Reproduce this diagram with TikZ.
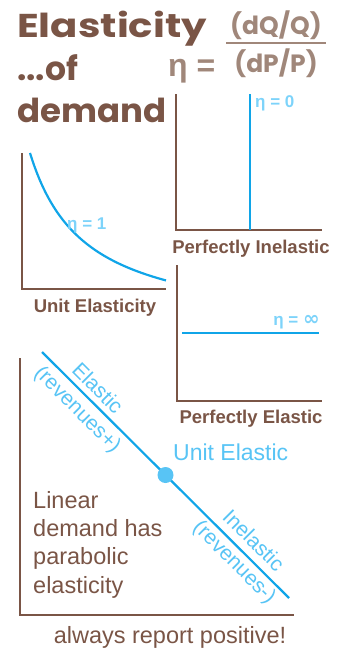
\documentclass[tikz,border=0pt]{standalone}
\usepackage{fontspec}
\setmainfont{Liberation Sans}
\newfontfamily\titlefont{Poppins}
\newfontfamily\symfont{DejaVu Sans}
\usetikzlibrary{positioning}
\definecolor{cocoa}{HTML}{7A5546}
\definecolor{latte}{HTML}{A0877A}
\definecolor{curveblue}{HTML}{10A5E8}
\definecolor{labelblue}{HTML}{58C4F5}
\definecolor{etablue}{HTML}{7DD3FA}

\begin{document}
\begin{tikzpicture}[
    x=1pt, y=-1pt,
    every node/.style={inner sep=0pt},
    axis/.style={draw=cocoa, line width=2.6pt},
    demand/.style={draw=curveblue, line width=2.2pt},
    heading/.style={text=cocoa, font=\titlefont\fontsize{33}{36}\selectfont\bfseries, anchor=base west},
    ratio/.style={text=latte, font=\titlefont\fontsize{25}{28}\selectfont\bfseries},
    caption/.style={text=cocoa, font=\fontsize{18.5}{20}\selectfont\bfseries, anchor=base},
    etalabel/.style={text=etablue, font=\fontsize{17}{19}\selectfont\bfseries},
    bluetext/.style={text=labelblue, font=\fontsize{21}{23}\selectfont, rotate=-45},
    note/.style={text=cocoa, font=\fontsize{23.5}{28.3}\selectfont}
]
\useasboundingbox (0,0) rectangle (341,654);

% title and definition
\node[heading] (elast) at (17,37) {\scalebox{1.22}[1]{Elasticity}};
\node[heading] (of) at (17,80) {...of};
\node[heading] (dem) at (17,122) {\scalebox{1.03}[1]{demand}};
\node[text=latte, font=\fontsize{32}{34}\selectfont\bfseries, anchor=base west] (eta) at (168,76) {η =};
\node[ratio, anchor=base] (dq) at (276,34) {(dQ/Q)};
\node[ratio, anchor=base] (dp) at (276,72) {(dP/P)};
\draw[latte, line width=2pt] (226,43) -- (326,43);

% perfectly inelastic
\coordinate (inTop) at (176,94);
\coordinate (inEnd) at (322,230);
\coordinate (inQ) at (250,230);
\draw[axis] (inTop) |- (inEnd);
\draw[demand] (inQ) -- (inQ |- inTop);
\node[etalabel, anchor=base west] (eta0) at (255,107) {η = 0};
\node[caption] (inelast) at (251,253) {Perfectly Inelastic};

% unit elasticity
\coordinate (unTop) at (22,153);
\coordinate (unEnd) at (166,289);
\draw[axis] (unTop) |- (unEnd);
\draw[demand, domain=30:166, samples=60] plot (\x, {332-9847/(\x+25)});
\node[etalabel, anchor=base west] (eta1) at (67,229) {η = 1};
\node[caption] (unit) at (95,312) {Unit Elasticity};

% perfectly elastic
\coordinate (elTop) at (177,265);
\coordinate (elEnd) at (322,401);
\coordinate (elA) at (182,333);
\coordinate (elB) at (319,333);
\draw[axis] (elTop) |- (elEnd);
\draw[demand] (elA) -- (elB);
\node[etalabel, anchor=base east] (etainf) at (320,325) {η = {\symfont\fontsize{20}{20}\selectfont\bfseries ∞}};
\node[caption] (perfel) at (251,423) {Perfectly Elastic};

% linear demand
\coordinate (liTop) at (20,358);
\coordinate (liEnd) at (294,615);
\coordinate (dTop) at (42,352);
\coordinate (dEnd) at (289,598);
\draw[axis] (liTop) |- (liEnd);
\draw[demand] (dTop) -- node[circle, fill=labelblue, minimum size=16pt, pos=0.5] (unitpt) {} (dEnd);
\node[text=labelblue, font=\fontsize{23}{25}\selectfont, anchor=base west] (unitel) at (173,460) {Unit Elastic};
\node[bluetext] (el) at (98,388) {Elastic};
\node[bluetext] (revp) at (77,410) {(revenues+)};
\node[bluetext] (inel) at (254,540) {Inelastic};
\node[bluetext] (revm) at (234,563) {(revenues-)};
\node[note, align=left, anchor=base west] (lin) at (33,593) {Linear\\demand has\\parabolic\\elasticity};
\node[note, anchor=base] (pos) at (170,643) {always report positive!};
\end{tikzpicture}
\end{document}
